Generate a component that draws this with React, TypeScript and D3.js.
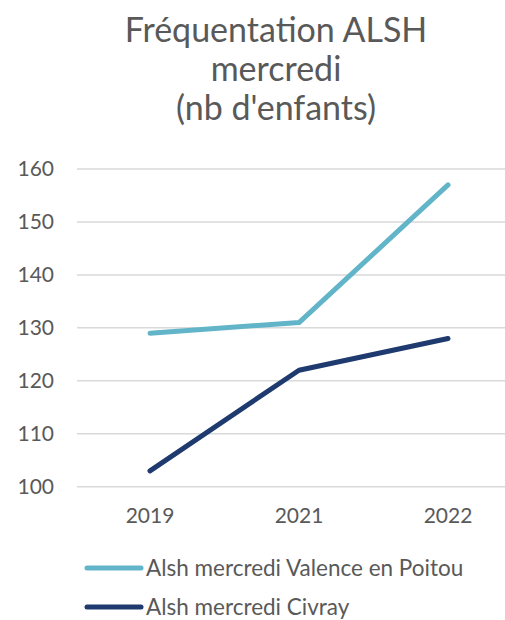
import React from "react";
import * as d3 from "d3";

const categories = ["2019", "2021", "2022"];
const seriesNames = ["Alsh mercredi Valence en Poitou", "Alsh mercredi Civray"];
const valenceValues = [129, 131, 157];
const civrayValues = [103, 122, 128];
const yTicks = [100, 110, 120, 130, 140, 150, 160];
const titleLines = ["Fréquentation ALSH", "mercredi", "(nb d'enfants)"];

const colors = ["#62B5C9", "#1F3A6E"];
const FONT = "Lato, 'Open Sans', sans-serif";

export default function App() {
  const W = 505, H = 620;
  const y = d3.scaleLinear().domain([100, 160]).range([486.7, 169]);
  const x = d3.scalePoint().domain(categories).range([150, 448]);
  const line = d3.line<number>()
    .x((_, i) => x(categories[i]) as number)
    .y((d) => y(d));
  const series = [valenceValues, civrayValues];
  const legendY = [568, 607];

  return (
    <svg width={W} height={H} style={{ position: "absolute", left: 0, top: 0 }} fontFamily={FONT}>
      <rect width={W} height={H} fill="#fff" />
      {titleLines.map((t, i) => (
        <text key={t} x={276} y={42 + i * 39} textAnchor="middle" fontSize={34} fill="#595959">{t}</text>
      ))}
      {yTicks.map((t) => (
        <g key={t}>
          <line x1={77} x2={505} y1={y(t)} y2={y(t)} stroke="#D9D9D9" strokeWidth={1.5} />
          <text x={54} y={y(t) + 7} textAnchor="end" fontSize={21} fill="#595959">{t}</text>
        </g>
      ))}
      {categories.map((c) => (
        <text key={c} x={x(c)} y={523} textAnchor="middle" fontSize={21} fill="#595959">{c}</text>
      ))}
      {series.map((s, i) => (
        <path key={i} d={line(s) || ""} fill="none" stroke={colors[i]} strokeWidth={5} strokeLinecap="round" strokeLinejoin="round" />
      ))}
      {seriesNames.map((n, i) => (
        <g key={n}>
          <line x1={87} x2={141} y1={legendY[i]} y2={legendY[i]} stroke={colors[i]} strokeWidth={5} strokeLinecap="round" />
          <text x={146} y={legendY[i] + 7.5} fontSize={22.5} fill="#595959">{n}</text>
        </g>
      ))}
    </svg>
  );
}
